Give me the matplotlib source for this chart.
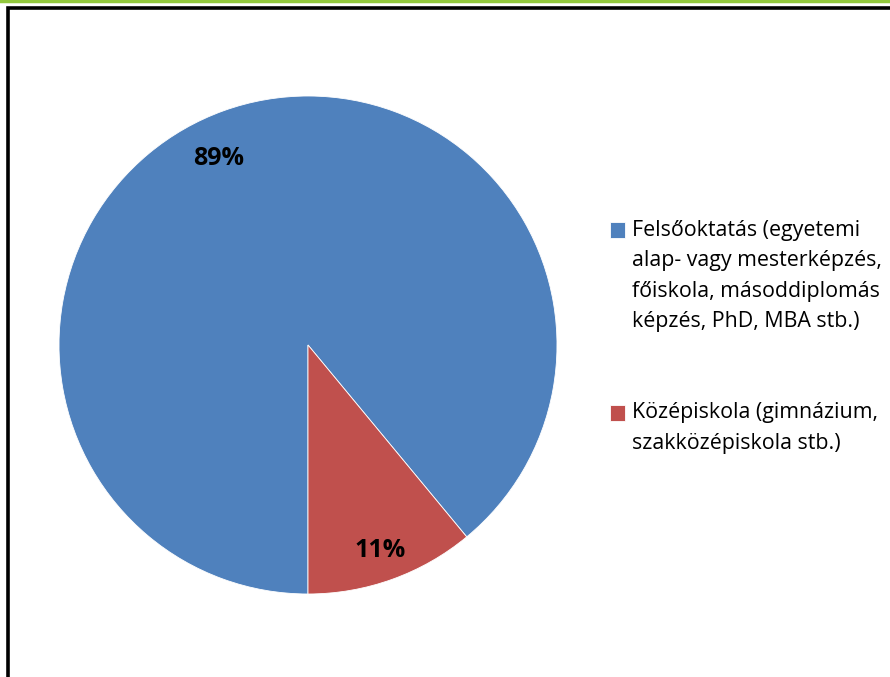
import numpy as np
import matplotlib.pyplot as plt
from matplotlib.patches import Rectangle
from matplotlib.lines import Line2D
from matplotlib.legend_handler import HandlerPatch

categories = ["Felsőoktatás (egyetemi\nalap- vagy mesterképzés,\nfőiskola, másoddiplomás\nképzés, PhD, MBA stb.)",
              "Középiskola (gimnázium,\nszakközépiskola stb.)"]
values = [89, 11]
colors = ["#4F81BD", "#C0504D"]

plt.rcParams['font.family'] = ['Open Sans', 'DejaVu Sans']

W, H = 890, 677
fig = plt.figure(figsize=(W / 100, H / 100), dpi=100)

# frame
fig.add_artist(Line2D([0, 1], [1 - 1 / H, 1 - 1 / H], color="#92C83E", lw=2.5, transform=fig.transFigure))
fig.add_artist(Rectangle((8 / W, -0.1), 1.2, (H - 8) / H + 0.1, transform=fig.transFigure,
                         fill=False, edgecolor="black", lw=2.6))

cx, cy, r = 308, 345, 249
ax = fig.add_axes([(cx - r) / W, (H - cy - r) / H, 2 * r / W, 2 * r / H])
wedges, texts, autotexts = ax.pie(values, colors=colors, startangle=270, counterclock=False,
                                  autopct=lambda p: f"{p:.0f}%", pctdistance=0.85,
                                  wedgeprops=dict(linewidth=0.6, edgecolor="white"),
                                  textprops=dict(fontsize=18, fontweight="bold", color="black"))
# label placement similar to the original
label_pos = [(0.83, 115.7), (0.875, -70.7)]
for t, (d, a) in zip(autotexts, label_pos):
    t.set_position((d * np.cos(np.radians(a)), d * np.sin(np.radians(a))))
ax.set_aspect("equal")
ax.set_xlim(-1, 1)
ax.set_ylim(-1, 1)

FS = 15.4
LINE_PT = 31 * 0.72  # line pitch in points


def make_handler(nlines):
    def patch_func(legend, orig_handle, xdescent, ydescent, width, height, fontsize):
        shift = (nlines - 1) / 2 * LINE_PT
        return Rectangle((-xdescent, -ydescent + shift), width, height)
    return HandlerPatch(patch_func=patch_func)


handler_map = {w: make_handler(c.count("\n") + 1) for w, c in zip(wedges, categories)}
leg = fig.legend(wedges, categories, loc="upper left", bbox_to_anchor=(610 / W, 1 - 220 / H),
                 frameon=False, fontsize=FS, handlelength=0.72, handleheight=0.72,
                 handletextpad=0.32, labelspacing=3.3, borderpad=0, borderaxespad=0,
                 handler_map=handler_map)
for t in leg.get_texts():
    t.set_linespacing(1.58)

fig.savefig("out.png", dpi=100)
